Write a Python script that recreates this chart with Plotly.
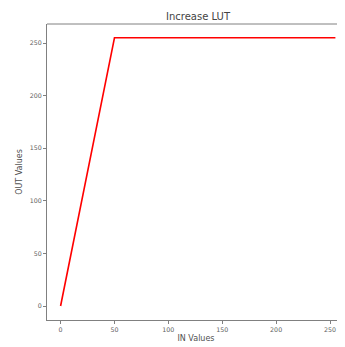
import plotly.graph_objects as go

in_values = [0, 50, 255]
out_values = [0, 255, 255]
x_ticks = [0, 50, 100, 150, 200, 250]
y_ticks = [0, 50, 100, 150, 200, 250]

fig = go.Figure()
fig.add_trace(go.Scatter(x=in_values, y=out_values, mode="lines",
                         line=dict(color="red", width=1.6), showlegend=False))

axis_common = dict(showgrid=False, zeroline=False, showline=True, linecolor="#808080",
                   linewidth=1, ticks="outside", ticklen=3, tickwidth=0.8, tickcolor="#808080",
                   tickfont=dict(family="DejaVu Sans", size=6.3, color="#606060"))

W, H = 337, 339
fig.update_layout(
    width=W, height=H,
    margin=dict(l=39, r=0, t=16, b=27),
    paper_bgcolor="white", plot_bgcolor="white",
    title=dict(text="Increase LUT", x=190 / W, xanchor="center", y=1 - 8.5 / H, yanchor="middle",
               font=dict(family="DejaVu Sans", size=10, color="#444444")),
    xaxis=dict(range=[-12.6, 263.9], tickvals=x_ticks,
               title=dict(text="IN Values", standoff=3,
                          font=dict(family="DejaVu Sans", size=8, color="#505050")),
               **axis_common),
    yaxis=dict(range=[-13.3, 268.1], tickvals=y_ticks,
               title=dict(text="OUT Values", standoff=5,
                          font=dict(family="DejaVu Sans", size=8, color="#505050")),
               **axis_common),
)
fig.add_shape(type="line", xref="paper", yref="paper", x0=0, x1=1, y0=1, y1=1,
              line=dict(color="#808080", width=1))

fig.write_html("out.html")
